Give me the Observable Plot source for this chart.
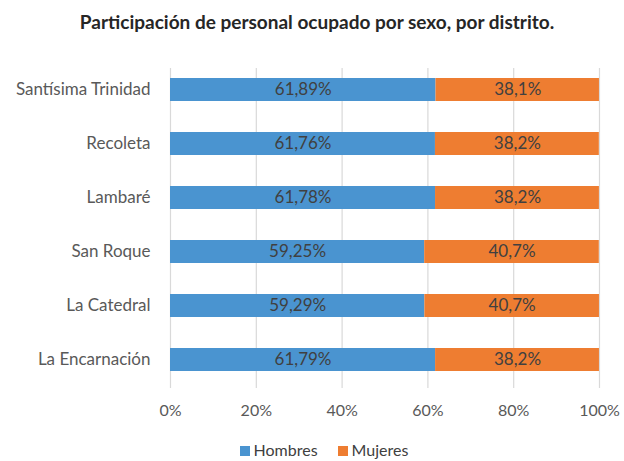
<!DOCTYPE html>
<html><head><meta charset="utf-8">
<script src="https://cdn.jsdelivr.net/npm/d3@7"></script>
<script src="https://cdn.jsdelivr.net/npm/@observablehq/plot@0.6"></script>
<style>
body{margin:0;background:#fff;font-family:Lato,"Open Sans",sans-serif;width:624px;height:461px;overflow:hidden}
#title{height:45px;line-height:43px;text-align:center;font-weight:bold;font-size:19px;color:#262626;padding-left:10px}
#legend{display:flex;justify-content:center;align-items:center;gap:20px;font-size:16px;color:#404040;margin-top:10px;padding-left:24px}
#legend span.sw{display:inline-block;width:10px;height:10px;margin-right:4px}
</style></head><body>
<div id="title">Participación de personal ocupado por sexo, por distrito.</div>
<div id="chart"></div>
<div id="legend"></div>
<script>
const distritos = ["Santísima Trinidad","Recoleta","Lambaré","San Roque","La Catedral","La Encarnación"];
const hombres = [61.89, 61.76, 61.78, 59.25, 59.29, 61.79];
const mujeres = [38.1, 38.2, 38.2, 40.7, 40.7, 38.2];
const series = ["Hombres","Mujeres"];
const colores = ["#4a94d0","#ee7d31"];
const xTicks = [0,20,40,60,80,100];

const data = [];
distritos.forEach((d,i)=>{
  data.push({distrito:d, sexo:"Hombres", valor:hombres[i], label:hombres[i].toFixed(2).replace(".",",")+"%"});
  data.push({distrito:d, sexo:"Mujeres", valor:mujeres[i], label:mujeres[i].toFixed(1).replace(".",",")+"%"});
});

const chart = Plot.plot({
  width:624, height:385,
  marginLeft:170, marginRight:25, marginTop:16, marginBottom:42,
  style:{fontFamily:"Lato, 'Open Sans', sans-serif", fontSize:"16px", color:"#595959", background:"#fff"},
  x:{domain:[0,100], ticks:xTicks, tickFormat:d=>d+"%", label:null, tickSize:0, tickPadding:16},
  y:{domain:distritos, label:null, tickSize:0, tickPadding:20, paddingInner:0.58, paddingOuter:0.29},
  color:{domain:series, range:colores},
  marks:[
    Plot.ruleX(xTicks,{stroke:"#d9d9d9", strokeWidth:1.2, insetTop:7}),
    Plot.barX(data, Plot.stackX({x:"valor", y:"distrito", fill:"sexo", order:series})),
    Plot.text(data, Plot.stackX({x:"valor", y:"distrito", z:"sexo", order:series, text:"label", fill:"#404040", fontSize:17}))
  ]
});
document.getElementById("chart").appendChild(chart);
chart.querySelectorAll('[aria-label="y-axis tick label"] text').forEach(t=>{t.setAttribute("fill","#595959");t.setAttribute("font-size","17px");});
chart.querySelectorAll('[aria-label="y-axis tick label"]').forEach(g=>g.setAttribute("font-size","17px"));

const leg = document.getElementById("legend");
series.forEach((s,i)=>{
  const el = document.createElement("div");
  el.innerHTML = `<span class="sw" style="background:${colores[i]}"></span>${s}`;
  leg.appendChild(el);
});
</script>
</body></html>
